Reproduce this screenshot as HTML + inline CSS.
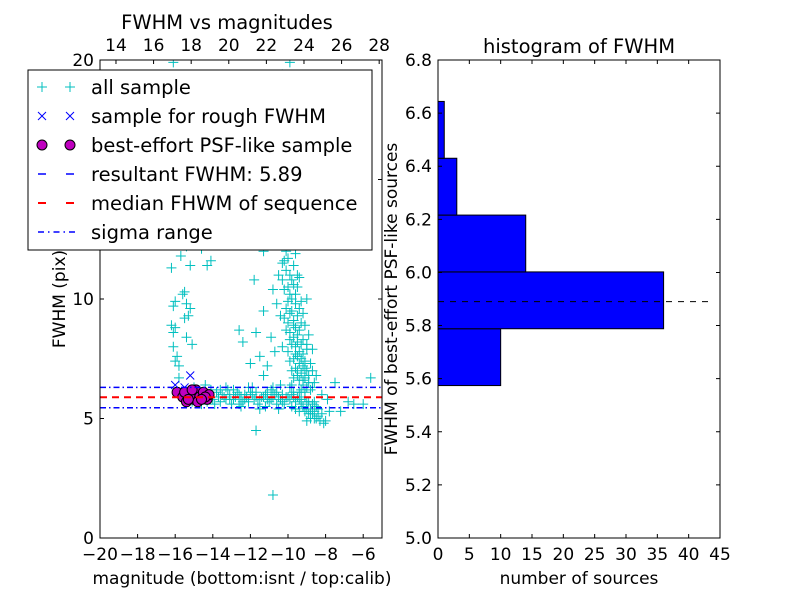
<!DOCTYPE html>
<html><head><meta charset="utf-8"><style>
body{margin:0;background:#fff;}
svg text{font-family:"DejaVu Sans","Liberation Sans",sans-serif;fill:#000;}
</style></head><body>
<svg id="fig" width="800" height="600" xmlns="http://www.w3.org/2000/svg"></svg>
<script>
const allSample=[[-16.2,11.3],[-16.0,9.9],[-16.1,9.7],[-16.2,8.9],[-16.1,8.6],[-16.0,8.8],[-16.1,8.0],[-15.9,7.6],[-15.8,7.2],[-16.0,7.4],[-15.8,6.7],[-15.6,10.2],[-15.4,9.8],[-15.5,9.2],[-15.3,9.3],[-15.4,8.4],[-15.1,8.1],[-15.2,9.6],[-15.2,11.4],[-15.5,10.3],[-15.7,11.8],[-14.5,13],[-14.1,11.6],[-14.3,11.4],[-15.4,12.2],[-14.5,12.8],[-17.0,12.3],[-16.0,13.4],[-15.5,14],[-16.1,19.9],[-15.2,16.5],[-14.6,12.1],[-11.3,12.0],[-10.5,13],[-10.2,12.6],[-10.4,15],[-10.9,17.8],[-10.3,19.4],[-9.9,19.9],[-9.7,18],[-10.1,16],[-9.6,14],[-9.9,12.3],[-10.0,11.7],[-9.5,11],[-9.4,12.5],[-11.3,13.3],[-10.0,20.7],[-9.3,20.3],[-10.8,12.6],[-11.6,13.2],[-11.0,12.4],
[-10.5,11.0],[-10.2,10.4],[-9.8,10.8],[-9.6,10.2],[-10.0,9.9],[-9.4,9.6],[-9.9,9.4],[-10.4,9.3],[-9.3,9.0],[-9.7,8.9],[-10.1,8.7],[-9.5,8.5],[-9.2,8.3],[-9.8,8.1],[-10.3,8.0],[-9.0,7.9],[-9.6,7.7],[-9.3,7.5],[-9.9,7.4],[-8.8,7.3],[-9.1,7.1],[-9.5,7.0],[-8.9,6.8],[-9.7,6.7],[-9.2,6.6],[-8.6,6.5],[-10.6,9.8],[-10.9,8.4],[-11.5,7.6],[-11.7,8.6],[-10.7,7.8],[-11.1,7.2],[-12.0,7.3],[-12.4,8.2],[-12.6,8.7],[-10.8,10.4],[-11.8,10.8],[-10.2,11.6],[-9.6,11.9],[-11.3,9.5],[-9.0,10.0],[-8.5,6.8],[-8.2,6.0],[-7.5,6.5],[-5.6,6.7],[-8.7,7.9],[-9.4,6.1],[-10.4,6.4],[-11.3,6.8],
[-10.1,11.2],[-9.9,11.0],[-9.7,10.6],[-10.0,10.5],[-9.8,10.0],[-9.6,9.8],[-10.1,9.6],[-9.8,9.5],[-9.5,9.3],[-9.7,9.1],[-10.0,9.0],[-9.6,8.8],[-9.4,8.7],[-9.9,8.6],[-9.7,8.4],[-9.5,8.2],[-9.3,8.1],[-9.6,8.0],[-9.4,7.8],[-9.2,7.7],[-9.5,7.6],[-9.7,7.5],[-9.1,7.4],[-9.4,7.3],[-9.2,7.2],[-9.6,7.1],[-9.0,7.0],[-9.3,6.9],[-9.1,6.7],[-9.4,6.6],[-8.9,6.5],[-9.2,6.4],[-9.0,6.3],[-9.3,6.2],[-8.8,6.2],[-9.1,6.1],[-9.9,10.2],[-10.2,9.2],[-10.3,10.8],[-9.5,10.5],[-9.3,9.9],[-9.1,8.9],[-8.9,8.5],[-9.8,7.0],[-10.0,7.8],[-9.9,8.3],[-9.2,9.4],[-9.0,8.1],[-8.7,7.0],[-8.7,6.3],[-9.5,6.8],[-9.8,6.4],[-10.3,11.5],[-9.7,11.4],[-10.1,12.0],[-9.4,10.9],
[-14.2,6.0],[-14.0,5.8],[-13.8,6.1],[-13.6,5.7],[-13.4,5.9],[-13.2,6.2],[-13.0,5.6],[-12.8,5.9],[-12.6,6.0],[-12.4,5.7],[-12.2,5.9],[-12.0,6.1],[-11.8,5.8],[-11.6,5.6],[-11.4,5.9],[-11.2,6.0],[-11.0,5.7],[-10.8,5.9],[-10.6,6.1],[-10.4,5.8],[-10.2,5.6],[-10.0,5.9],[-9.8,6.0],[-9.6,5.7],[-9.4,5.8],[-9.2,5.5],[-9.0,5.7],[-8.8,5.4],[-8.6,5.3],[-8.4,5.1],[-8.3,4.9],[-8.6,5.0],[-8.9,5.2],[-9.1,5.3],[-9.3,5.6],[-13.9,5.6],[-13.3,6.3],[-12.9,6.2],[-12.5,5.5],[-11.9,6.3],[-11.5,5.4],[-10.9,6.2],[-10.5,5.4],[-9.9,6.3],[-13.1,5.8],[-12.3,6.0],[-11.7,5.9],[-11.1,5.8],[-10.3,6.0],[-9.7,5.9],[-14.4,6.4],[-15.0,6.3],[-14.8,6.2],[-7.9,5.8],[-6.8,5.7],[-6.0,5.6],[-7.2,5.3],[-11.7,4.5],[-10.8,1.8],[-15.1,5.7],[-14.6,5.6],[-9.0,4.9],[-8.0,4.9],
[-13.7,5.9],[-13.5,6.0],[-13.3,5.8],[-13.1,6.0],[-12.9,5.8],[-12.7,6.1],[-12.5,5.9],[-12.3,5.8],[-12.1,5.7],[-11.9,6.0],[-11.7,6.1],[-11.5,5.8],[-11.3,5.9],[-11.1,6.1],[-10.9,5.8],[-10.7,6.0],[-10.5,5.9],[-10.3,5.7],[-10.1,5.9],[-9.9,5.8],[-9.7,6.1],[-9.5,5.9],[-9.3,5.8],[-9.1,5.9],[-8.9,5.7],[-8.7,5.6],[-8.5,5.5],[-8.7,5.2],[-8.5,5.0],[-8.2,5.2],[-8.4,5.4],[-8.8,5.0],[-9.0,5.4],[-8.6,5.7],[-12.6,5.6],[-11.2,5.5],[-10.6,5.6],[-9.8,5.5],[-10.8,6.3],[-12.1,6.3],[-13.6,6.2],[-14.1,6.2],[-14.3,5.7],[-9.6,5.4],[-9.4,5.3],[-8.1,4.8],[-7.8,5.3],[-6.5,5.6]];
const roughSample=[[-16.0,6.4],[-15.2,6.8],[-15.5,6.3],[-15.0,6.2],[-14.7,6.0],[-15.8,6.1]];
const bestSample=[[-15.9,6.1],[-15.6,5.9],[-15.4,5.7],[-15.2,6.0],[-15.0,5.8],[-14.9,6.2],[-14.7,5.9],[-14.5,6.1],[-14.3,5.8],[-14.2,6.0],[-15.5,6.1],[-14.8,5.7],[-15.1,6.2],[-14.4,5.9],[-15.3,5.8],[-14.6,5.8]];
const resultFWHM=5.89, medianFWHM=5.89, sigmaLo=5.45, sigmaHi=6.30;
const binEdges=[5.574,5.788,6.002,6.216,6.430,6.644];
const binCounts=[10,36,14,3,1];
const xTicksL=[-20,-18,-16,-14,-12,-10,-8,-6];
const xTicksTop=[14,16,18,20,22,24,26,28];
const yTicksL=[0,5,10,15,20];
const yTicksR=[5.0,5.2,5.4,5.6,5.8,6.0,6.2,6.4,6.6,6.8];
const xTicksR=[0,5,10,15,20,25,30,35,40,45];

const svg=document.getElementById('fig');
const NS='http://www.w3.org/2000/svg';
function mk(tag,attrs,parent){const e=document.createElementNS(NS,tag);for(const k in attrs)e.setAttribute(k,attrs[k]);(parent||svg).appendChild(e);return e;}
function txt(s,x,y,anchor,size,parent){const t=mk('text',{x:x,y:y,'text-anchor':anchor,'font-size':size},parent);t.textContent=s;return t;}
const L={x0:100,x1:382,y0:60,y1:538};
const xL=m=>L.x0+(m+20)/15*(L.x1-L.x0);
const xTop=c=>L.x0+(c-13.15)*18.8;
const yL=f=>L.y1-f/20*(L.y1-L.y0);
const R={x0:438,x1:720,y0:60,y1:538};
const xR=n=>R.x0+n/45*(R.x1-R.x0);
const yR=v=>R.y1-(v-5)/1.8*(R.y1-R.y0);
const FS=17;

const gL=mk('g',{});


mk('rect',{x:L.x0,y:L.y0,width:L.x1-L.x0,height:L.y1-L.y0,fill:'#fff'},gL);
const clip=mk('clipPath',{id:'cl'});mk('rect',{x:L.x0,y:L.y0,width:L.x1-L.x0,height:L.y1-L.y0},clip);
const pts=mk('g',{'clip-path':'url(#cl)'},gL);
allSample.forEach(p=>{const x=xL(p[0]),y=yL(p[1]);const e=mk('path',{d:`M${x-5},${y}H${x+5}M${x},${y-5}V${y+5}`,stroke:'#00bfbf','stroke-width':1},pts);

});
roughSample.forEach(p=>{const x=xL(p[0]),y=yL(p[1]);const e=mk('path',{d:`M${x-4},${y-4}L${x+4},${y+4}M${x-4},${y+4}L${x+4},${y-4}`,stroke:'#0000ff','stroke-width':1},pts);

});
bestSample.forEach(p=>{const e=mk('circle',{cx:xL(p[0]),cy:yL(p[1]),r:5,fill:'#bf00bf',stroke:'#000','stroke-width':1},pts);

});
let ln=mk('line',{x1:L.x0,x2:L.x1,y1:yL(resultFWHM),y2:yL(resultFWHM),stroke:'#0000ff','stroke-width':1,'stroke-dasharray':'6,6'},pts);


ln=mk('line',{x1:L.x0,x2:L.x1,y1:yL(medianFWHM),y2:yL(medianFWHM),stroke:'#ff0000','stroke-width':2,'stroke-dasharray':'7,5'},pts);


[sigmaLo,sigmaHi].forEach(v=>{const e=mk('line',{x1:L.x0,x2:L.x1,y1:yL(v),y2:yL(v),stroke:'#0000ff','stroke-width':1.5,'stroke-dasharray':'6,3,1.5,3'},pts);

});
mk('rect',{x:L.x0,y:L.y0,width:L.x1-L.x0,height:L.y1-L.y0,fill:'none',stroke:'#000','stroke-width':1},gL);
xTicksL.forEach(t=>{const x=xL(t);mk('path',{d:`M${x},${L.y1}v-4`,stroke:'#000'},gL);txt(String(t).replace('-','\u2212'),x,560,'middle',FS,gL);});
xTicksTop.forEach(t=>{const x=xTop(t);mk('path',{d:`M${x},${L.y0}v4`,stroke:'#000'},gL);txt(String(t),x,51,'middle',FS,gL);});
yTicksL.forEach(t=>{const y=yL(t);mk('path',{d:`M${L.x0},${y}h4M${L.x1},${y}h-4`,stroke:'#000'},gL);txt(String(t),L.x0-6,y+6,'end',FS,gL);});
let t=txt('FWHM vs magnitudes',227,29,'middle',19.5,gL);
t=txt('magnitude (bottom:isnt / top:calib)',242,584,'middle',FS,gL);
t=txt('FWHM (pix)',0,0,'middle',FS,gL);t.setAttribute('transform','translate(65,299) rotate(-90)');

const lg=mk('g',{});


mk('rect',{x:28,y:70,width:344,height:180,fill:'#fff',stroke:'#000','stroke-width':1},lg);
const items=['all sample','sample for rough FWHM','best-effort PSF-like sample','resultant FWHM: 5.89','median FHWM of sequence','sigma range'];
items.forEach((s,i)=>{const y=87+i*29;
 if(i==0){[42,70].forEach(x=>mk('path',{d:`M${x-5},${y}H${x+5}M${x},${y-5}V${y+5}`,stroke:'#00bfbf'},lg));}
 if(i==1){[42,70].forEach(x=>mk('path',{d:`M${x-4},${y-4}L${x+4},${y+4}M${x-4},${y+4}L${x+4},${y-4}`,stroke:'#0000ff'},lg));}
 if(i==2){[42,70].forEach(x=>mk('circle',{cx:x,cy:y,r:5,fill:'#bf00bf',stroke:'#000'},lg));}
 if(i==3)mk('line',{x1:38,x2:76,y1:y,y2:y,stroke:'#0000ff','stroke-width':1.5,'stroke-dasharray':'8,20'},lg);
 if(i==4)mk('line',{x1:38,x2:76,y1:y,y2:y,stroke:'#ff0000','stroke-width':2,'stroke-dasharray':'8,20'},lg);
 if(i==5)mk('line',{x1:38,x2:76,y1:y,y2:y,stroke:'#0000ff','stroke-width':1.5,'stroke-dasharray':'6,4,1.5,4'},lg);
 const e=txt(s,91,y+7,'start',19.5,lg);});

const gR=mk('g',{});


binCounts.forEach((c,i)=>{const y0=yR(binEdges[i+1]),y1=yR(binEdges[i]);const e=mk('rect',{x:R.x0,y:y0,width:xR(c)-R.x0,height:y1-y0,fill:'#0000ff',stroke:'#000','stroke-width':1},gR);

});
ln=mk('line',{x1:R.x0,x2:xR(43.5),y1:yR(resultFWHM),y2:yR(resultFWHM),stroke:'#000','stroke-dasharray':'6,6'},gR);


mk('rect',{x:R.x0,y:R.y0,width:R.x1-R.x0,height:R.y1-R.y0,fill:'none',stroke:'#000'},gR);
xTicksR.forEach(t=>{const x=xR(t);mk('path',{d:`M${x},${R.y1}v-4M${x},${R.y0}v4`,stroke:'#000'},gR);txt(String(t),x,560,'middle',FS,gR);});
yTicksR.forEach(t=>{const y=yR(t);mk('path',{d:`M${R.x0},${y}h4M${R.x1},${y}h-4`,stroke:'#000'},gR);txt(t.toFixed(1),R.x0-6,y+6,'end',FS,gR);});
t=txt('histogram of FWHM',579,53,'middle',19.5,gR);
t=txt('number of sources',579,584,'middle',FS,gR);
t=txt('FWHM of best-effort PSF-like sources',0,0,'middle',FS,gR);t.setAttribute('transform','translate(397,299) rotate(-90)');
</script>
</body></html>
